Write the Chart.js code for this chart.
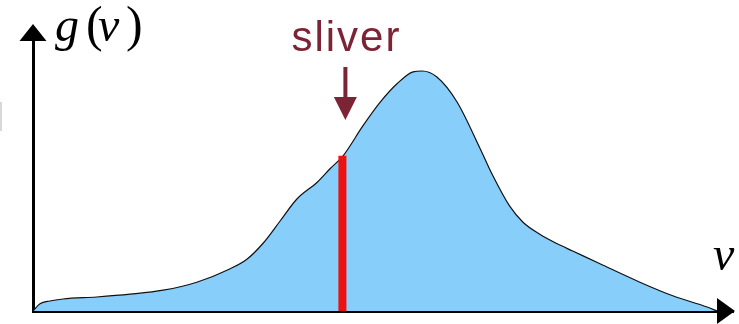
<!DOCTYPE html>
<html>
<head>
<meta charset="utf-8">
<script src="https://cdn.jsdelivr.net/npm/chart.js@4/dist/chart.umd.min.js"></script>
<style>
  html, body { margin: 0; padding: 0; background: #ffffff; overflow: hidden; }
  #wrap { width: 739px; height: 324px; position: relative; }
</style>
</head>
<body>
<div id="wrap"><canvas id="c" width="739" height="324"></canvas></div>
<script>
// Speed distribution g(v): sample speeds and density values
const speeds = [0, 0.1, 0.24, 0.43, 0.91, 1.39, 1.86, 2.34, 2.81, 3.06, 3.29, 3.53, 3.77,
  4.06, 4.24, 4.43, 4.71, 4.96, 5.2, 5.43, 5.56, 5.77, 6.06, 6.39, 6.57, 6.81, 7.0,
  7.24, 7.49, 7.71, 8.1, 8.67, 9.14, 9.63, 9.77];
const density = [0, 0.009, 0.0125, 0.015, 0.0175, 0.021, 0.026, 0.036, 0.0525, 0.065, 0.085,
  0.1125, 0.14, 0.161, 0.1775, 0.194, 0.231, 0.261, 0.284, 0.299, 0.3, 0.2925, 0.261,
  0.2025, 0.169, 0.131, 0.111, 0.096, 0.084, 0.075, 0.059, 0.036, 0.019, 0.005, 0];

// The highlighted sliver
const sliverSpeed = [4.42];
const sliverHeight = [0.194];

// Axis ranges
const speedRange = [0, 10];
const densityRange = [0, 0.35];

// Text
const yLabel = ['g', '(', 'v', ')'];
const xLabel = 'v';
const sliverLabel = 'sliver';

const curvePoints = speeds.map((v, i) => ({ x: v, y: density[i] }));
const sliverPoints = [
  { x: sliverSpeed[0], y: 0 },
  { x: sliverSpeed[0], y: sliverHeight[0] }
];

const decorations = {
  id: 'decorations',
  afterDraw(chart) {
    const { ctx, chartArea, scales } = chart;
    const xs = scales.x, ys = scales.y;
    const x0 = xs.getPixelForValue(speedRange[0]);
    const y0 = ys.getPixelForValue(densityRange[0]);
    ctx.save();

    // arrowheads on the axes
    ctx.fillStyle = '#000000';
    ctx.beginPath();
    ctx.moveTo(x0, chartArea.top - 7);
    ctx.lineTo(x0 - 13.5, chartArea.top + 10);
    ctx.lineTo(x0 + 13.5, chartArea.top + 10);
    ctx.closePath();
    ctx.fill();
    ctx.beginPath();
    ctx.moveTo(chartArea.right + 2, y0);
    ctx.lineTo(chartArea.right - 16, y0 - 13);
    ctx.lineTo(chartArea.right - 16, y0 + 13);
    ctx.closePath();
    ctx.fill();

    // axis labels
    ctx.textBaseline = 'alphabetic';
    ctx.textAlign = 'left';
    const italic = 'italic 48px "Liberation Serif", serif';
    const upright = '50px "Liberation Serif", serif';
    const ylx = [55, 86, 98, 126];
    yLabel.forEach((ch, i) => {
      ctx.font = (ch === '(' || ch === ')') ? upright : italic;
      ctx.fillText(ch, ylx[i], 41);
    });
    ctx.font = italic;
    ctx.fillText(xLabel, 713, 270);

    // sliver annotation
    const sx = xs.getPixelForValue(sliverSpeed[0]) + 3;
    ctx.fillStyle = '#7c2435';
    ctx.font = '42px "Liberation Sans", Arial, sans-serif';
    ctx.textAlign = 'center';
    if ('letterSpacing' in ctx) ctx.letterSpacing = '2px';
    ctx.fillText(sliverLabel, sx + 1, 51);
    if ('letterSpacing' in ctx) ctx.letterSpacing = '0px';
    ctx.fillRect(sx - 2, 67, 4, 31);
    ctx.beginPath();
    ctx.moveTo(sx - 11.5, 97);
    ctx.lineTo(sx + 11.5, 97);
    ctx.lineTo(sx, 120);
    ctx.closePath();
    ctx.fill();

    // faint mark at the left edge
    ctx.fillStyle = '#d8d8d8';
    ctx.fillRect(0, 102, 2, 29);
    ctx.restore();
  }
};

new Chart(document.getElementById('c'), {
  type: 'line',
  data: {
    datasets: [
      {
        data: sliverPoints,
        borderColor: '#ee1111',
        borderWidth: 8,
        borderCapStyle: 'butt',
        pointRadius: 0,
        fill: false,
        tension: 0,
        order: 0
      },
      {
        data: curvePoints,
        borderColor: '#111111',
        borderWidth: 1.2,
        backgroundColor: '#87cefa',
        fill: 'origin',
        pointRadius: 0,
        cubicInterpolationMode: 'monotone',
        order: 1
      }
    ]
  },
  options: {
    responsive: false,
    devicePixelRatio: 1,
    animation: false,
    layout: { padding: { left: 33, right: 6, top: 31, bottom: 13 } },
    plugins: { legend: { display: false }, tooltip: { enabled: false } },
    scales: {
      x: {
        type: 'linear',
        min: speedRange[0],
        max: speedRange[1],
        grid: { display: false },
        ticks: { display: false },
        border: { display: true, color: '#000000', width: 3 },
        afterFit(s) { s.height = 0; }
      },
      y: {
        type: 'linear',
        min: densityRange[0],
        max: densityRange[1],
        grid: { display: false },
        ticks: { display: false },
        border: { display: true, color: '#000000', width: 3 },
        afterFit(s) { s.width = 0; }
      }
    }
  },
  plugins: [decorations]
});
</script>
</body>
</html>
